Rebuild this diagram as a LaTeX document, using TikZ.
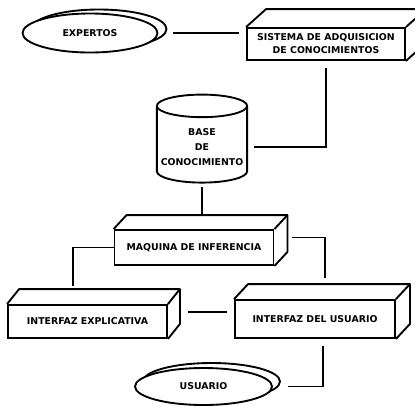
\documentclass[tikz,border=0pt]{standalone}
\usepackage{fontspec}
\setmainfont{DejaVu Sans}
\usetikzlibrary{calc}
\usetikzlibrary{positioning}
\usetikzlibrary{shapes}
\tikzset{caja/.style={draw, text centered, align=center, fill=white, line width=1.6pt, font=\fontsize{8}{11}\selectfont\bfseries}}
\tikzset{nube/.style={draw, ellipse, text centered, fill=white, line width=1.6pt, font=\fontsize{8}{11}\selectfont\bfseries}}
\tikzset{lado/.style={draw, line width=1.6pt, line join=round}}
\tikzset{connect/.style={draw, line width=1.6pt}}

\begin{document}
\begin{tikzpicture}[x=0.3mm,y=-0.3mm]
\useasboundingbox (0,0) rectangle (415,406);

%expertos (second ellipse behind)
\draw[lado,fill=white] (99,29) ellipse [x radius=67.5,y radius=19.5];
\node[nube,minimum width=40.5mm,minimum height=11.7mm] (expertos) at (90,33) {EXPERTOS};

%sistema de adquisicion
\node[caja,rectangle,minimum width=47.4mm,minimum height=9.6mm] (sistema) at (326,44) {SISTEMA DE ADQUISICION\\DE CONOCIMIENTOS};
\draw[lado] (sistema.north west) -- ++(20,-18) -- ([shift={(20,-18)}]sistema.north east) -- ([shift={(20,-18)}]sistema.south east) -- (sistema.south east);
\draw[lado] (sistema.north east) -- ++(20,-18);

%base de conocimiento
\node[caja,cylinder,shape border rotate=90,aspect=0.25,minimum width=27mm,minimum height=26.4mm,font=\fontsize{8}{12.5}\selectfont\bfseries] (base) at (202,147) {BASE\\DE\\CONOCIMIENTO};

%maquina de inferencia
\node[caja,rectangle,minimum width=47.7mm,minimum height=10.5mm] (maquina) at (194,247.5) {MAQUINA DE INFERENCIA};
\draw[lado] (maquina.north west) -- ++(13,-14) -- ([shift={(13,-14)}]maquina.north east) -- ([shift={(13,-14)}]maquina.south east) -- (maquina.south east);
\draw[lado] (maquina.north east) -- ++(13,-14);

%interfaces
\node[caja,rectangle,minimum width=47.7mm,minimum height=9.9mm] (explicativa) at (87.5,321.5) {INTERFAZ EXPLICATIVA};
\draw[lado] (explicativa.north west) -- ++(12,-15) -- ([shift={(12,-15)}]explicativa.north east) -- ([shift={(12,-15)}]explicativa.south east) -- (explicativa.south east);
\draw[lado] (explicativa.north east) -- ++(12,-15);
\node[caja,rectangle,minimum width=48mm,minimum height=11.4mm] (interfaz) at (315,319) {INTERFAZ DEL USUARIO};
\draw[lado] (interfaz.north west) -- ++(14,-15) -- ([shift={(14,-15)}]interfaz.north east) -- ([shift={(14,-15)}]interfaz.south east) -- (interfaz.south east);
\draw[lado] (interfaz.north east) -- ++(14,-15);

%usuario (second ellipse behind)
\draw[lado,fill=white] (211.5,381.5) ellipse [x radius=68.5,y radius=18.5];
\node[nube,minimum width=41.1mm,minimum height=11.1mm] (usuario) at (203.5,386.5) {USUARIO};

%connections
\path[connect,shorten <=4.5mm,shorten >=2mm] (expertos.east) -- (expertos.east -| sistema.west);
\path[connect,shorten <=2mm,shorten >=1.8mm] (sistema.south) |- (base.east);
\path[connect,shorten <=1mm,shorten >=3.9mm] (base.south) -- (base.south |- maquina.north);
\path[connect,shorten >=5.4mm] (maquina.west) -| ([xshift=-4.35mm]explicativa.north);
\path[connect,shorten >=6.3mm] ([shift={(18,-10)}]maquina.east) -| ([xshift=3mm]interfaz.north);
\coordinate (enlace) at ([yshift=2.85mm]explicativa.east);
\path[connect,shorten <=6mm,shorten >=2.1mm] (enlace) -- (enlace -| interfaz.west);
\path[connect,shorten <=2.1mm,shorten >=4.5mm] ([xshift=2.4mm]interfaz.south) |- (usuario.east);

\end{tikzpicture}
\end{document}
